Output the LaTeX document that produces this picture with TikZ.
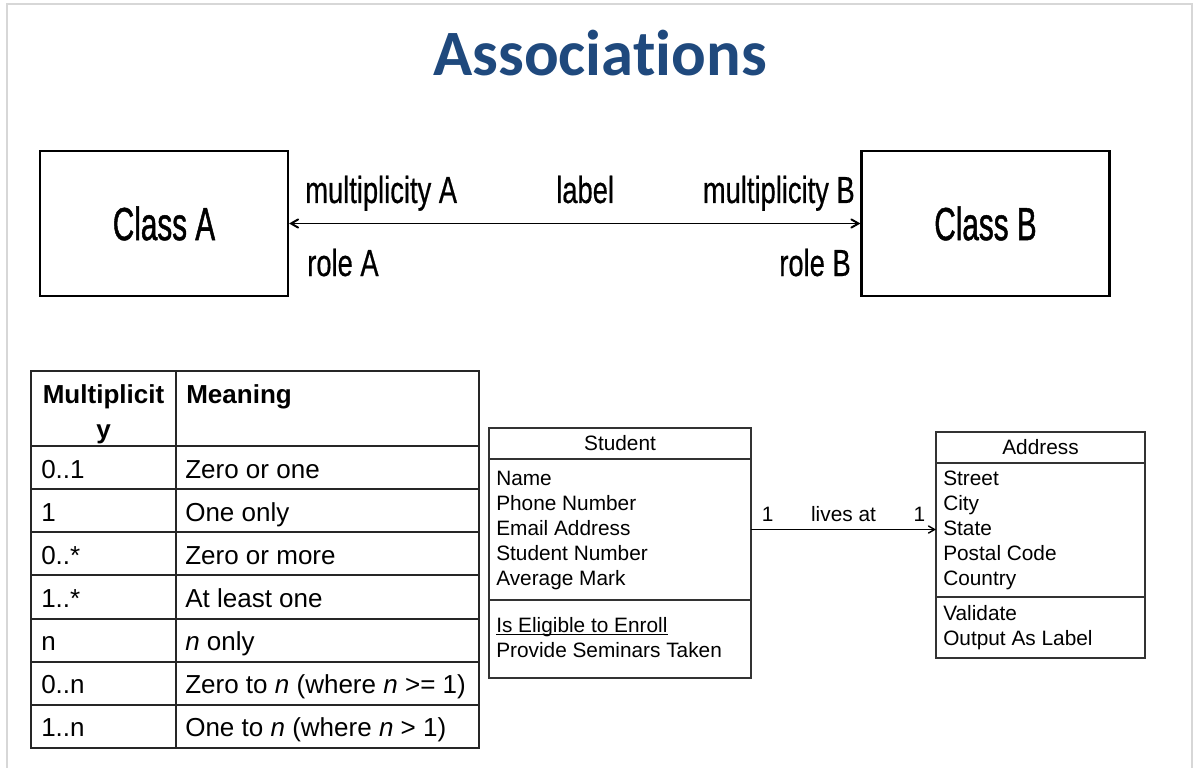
\documentclass[tikz,border=0pt]{standalone}
\usepackage{fontspec}
\setmainfont{Liberation Sans}
\newfontfamily\titlefont[Ligatures=NoCommon]{Carlito}
\newfontfamily\classfont[FakeStretch=0.64, FakeBold=1]{Liberation Sans}
\newfontfamily\rolefont[FakeStretch=0.725, FakeBold=0.5]{Liberation Sans}
\usepackage{tikz}
\usetikzlibrary{positioning}
\usetikzlibrary{shapes,arrows}
\definecolor{titleblue}{RGB}{31,73,125}
\definecolor{framegray}{RGB}{215,215,215}
\tikzstyle{classbox} = [rectangle, draw, line width=1.5pt, 
    minimum width=6.2cm, minimum height=3.625cm, font=\classfont\fontsize{33}{40}\selectfont]
\tikzstyle{rolelabel} = [inner sep=0pt, font=\rolefont\fontsize{26.8}{32}\selectfont]
\tikzstyle{assoc} = [draw, line width=1.4pt, angle 60-angle 60]
\tikzstyle{cell} = [inner sep=0pt, anchor=base west, font=\fontsize{18.5}{22}\selectfont]
\tikzstyle{grid} = [draw=black!85, line width=1.4pt]
\tikzstyle{compart} = [rectangle, draw=black!80, line width=1pt, inner sep=0pt, outer sep=0pt,
    font=\fontsize{14.8}{17.8}\selectfont]
\tikzstyle{member} = [inner sep=0pt, anchor=base west, font=\fontsize{14.8}{17.8}\selectfont]
\tikzstyle{link} = [draw, line width=1pt, -angle 60, font=\fontsize{14.8}{17.8}\selectfont]

\begin{document}
\begin{tikzpicture}[x=0.025cm, y=-0.025cm]
    \useasboundingbox (0,0) rectangle (1196,768);
    \draw [framegray, line width=1.4pt] (7,768) -- (7,4) -- (1192,4) -- (1192,768);
    % Title
    \node [anchor=base, text=titleblue, font=\titlefont\bfseries\fontsize{46}{55}\selectfont]
        (title) at (600,76) {Associations};
    % Generic association
    \node [classbox] (classA) at (164,223.5) {Class A};
    \node [classbox] (classB) at (985.5,223.5) {Class B};
    \path [assoc] (classA) -- (classB);
    \node [rolelabel, anchor=base west] (multA) at (305,203) {multiplicity A};
    \node [rolelabel, anchor=base west] (label) at (556,203) {label};
    \node [rolelabel, anchor=base east] (multB) at (855,203) {multiplicity B};
    \node [rolelabel, anchor=base west] (roleA) at (307,276) {role A};
    \node [rolelabel, anchor=base east] (roleB) at (851,276) {role B};
    % Multiplicity table
    \draw [grid] (31,371) rectangle (479,748);
    \draw [grid] (176,371) -- (176,748);
    \foreach \i in {0,...,6}
        \draw [grid] (31,446+43.14*\i) -- (479,446+43.14*\i);
    \node [cell, anchor=north, align=center, font=\bfseries\fontsize{18.5}{21.5}\selectfont]
        (multhead) at (103.5,384) {Multiplicit\\[3.5pt]y};
    \node [cell, font=\bfseries\fontsize{18.5}{22}\selectfont] (meanhead) at (186,403) {Meaning};
    \foreach \m/\t [count=\i] in {0..1/Zero or one, 1/One only, 0..*/Zero or more,
        1..*/At least one, n/\textit{n} only, 0..n/Zero to \textit{n} (where \textit{n} >= 1),
        1..n/One to \textit{n} (where \textit{n} > 1)}
    {
        \node [cell] (mult\i) at (41,435+43.14*\i) {\m};
        \node [cell] (mean\i) at (185,435+43.14*\i) {\t};
    }
    % Student class
    \node [compart, minimum width=6.55cm, minimum height=0.775cm] (student) at (620,443.5) {Student};
    \node [compart, minimum width=6.55cm, minimum height=3.525cm, below=0pt of student] (stuattr) {};
    \node [compart, minimum width=6.55cm, minimum height=1.95cm, below=0pt of stuattr] (stuops) {};
    \foreach \a [count=\i] in {Name, Phone Number, Email Address, Student Number, Average Mark}
        \node [member] (stuattr\i) at (496,460+25*\i) {\a};
    \node [member] (stuop1) at (496,632) {Is Eligible to Enroll};
    \draw [line width=0.9pt] ([yshift=-1.6pt]stuop1.base west) -- ([yshift=-1.6pt]stuop1.base east);
    \node [member] (stuop2) at (496,657) {Provide Seminars Taken};
    % Address class
    \node [compart, minimum width=5.225cm, minimum height=0.775cm] (address) at (1040.5,447.5) {Address};
    \node [compart, minimum width=5.225cm, minimum height=3.35cm, below=0pt of address] (addrattr) {};
    \node [compart, minimum width=5.225cm, minimum height=1.525cm, below=0pt of addrattr] (addrops) {};
    \foreach \a [count=\i] in {Street, City, State, Postal Code, Country}
        \node [member] (addrattr\i) at (943,460+25*\i) {\a};
    \node [member] (addrop1) at (943,620) {Validate};
    \node [member] (addrop2) at (943,645) {Output As Label};
    % lives at
    \path [link] (stuattr.east) -- node [above=2pt, pos=0.09] {1} node [above=2pt] {lives at}
        node [above=2pt, pos=0.91] {1} (stuattr.east -| addrattr.west);
\end{tikzpicture}
\end{document}
